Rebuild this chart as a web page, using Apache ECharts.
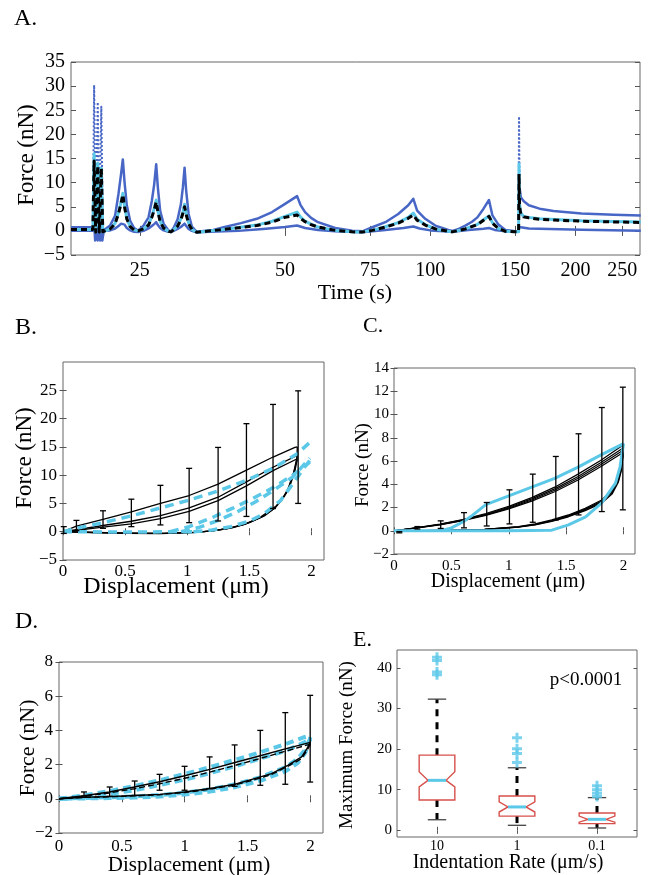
<!DOCTYPE html>
<html><head><meta charset="utf-8">
<script src="https://cdn.jsdelivr.net/npm/echarts@6/dist/echarts.min.js"></script>
<style>html,body{margin:0;padding:0;background:#fff}#c{width:649px;height:875px}</style>
</head><body><div id="c"></div>
<script>
const FONT = 'Liberation Serif';
const BLUE = '#4766c6', CYAN = '#5cc8e8', RED = '#d6504c';

// ---------- Panel A : force vs time (log time axis) ----------
const aXTicks = [25, 50, 75, 100, 150, 200, 250];
const aYTicks = [-5, 0, 5, 10, 15, 20, 25, 30, 35];
const aUpper = [[18.0,0.75],[19.98,0.75],[20.0,'-'],
 [21.15,0.3],[21.69,1.1],[22.22,3.2],[22.58,7.7],[22.86,11.8],[23.05,14.8],[23.24,10.1],[23.49,5.3],[23.87,2.1],[24.33,0.6],[24.78,0.05],
 [25.44,1.1],[26.06,2.8],[26.47,6.2],[26.77,9.6],[27.03,13.8],[27.25,8.9],[27.55,4.1],[28.0,1.5],[28.67,0.1],[29.0,-0.1],
 [29.37,0.6],[29.94,2.4],[30.41,5.5],[30.7,9.0],[30.95,13.1],[31.19,8.3],[31.55,3.5],[32.05,0.9],[32.8,-0.2],
 [35.5,0.2],[37.3,0.75],[40.5,1.6],[43.7,2.5],[47.0,3.9],[50.0,5.6],[52.95,7.2],[53.8,5.4],[55.0,3.9],[56.6,2.7],[58.5,1.8],[63.5,0.6],[68.9,0.05],[72.3,-0.1],
 [75.8,0.75],[80.7,1.8],[85.8,3.5],[90.0,5.3],[92.2,6.65],[93.9,4.2],[97.6,2.5],[102.4,1.1],[109.0,0.2],[111.1,0.0],
 [114.5,0.4],[118.2,1.1],[122.0,1.9],[125.2,2.8],[128.9,4.6],[132.3,6.4],[134.5,3.2],[138.4,1.3],[143.1,0.2],[150.1,-0.1],[152.4,-0.1],[152.5,'-'],
 [153.1,9.0],[154.0,7.0],[156.0,6.2],[160.0,5.3],[168.4,4.6],[180,4.1],[205.8,3.6],[240,3.35],[273,3.2]];
const aUpperBurst = [[19.98,0.75],[20.1,30.2],[20.25,0.6],[20.45,26.7],[20.6,0.6],[20.8,25.7],[20.95,0.5],[21.15,0.3]];
const aUpperSpike = [[152.4,-0.1],[152.7,23.7],[153.1,9.0]];
const aMean = [[18.0,0.3],[19.98,0.3],[20.1,14.5],[20.25,-0.3],[20.45,13.5],[20.6,-0.3],[20.8,13.0],[20.95,-0.2],[21.15,0.2],
 [21.69,0.4],[22.22,1.5],[22.58,3.6],[22.86,5.7],[23.05,7.5],[23.24,5.0],[23.49,2.5],[23.87,0.9],[24.33,0.2],[24.78,0.0],
 [25.44,0.4],[26.06,1.2],[26.47,2.8],[26.77,4.3],[27.03,6.0],[27.25,4.0],[27.55,1.9],[28.0,0.6],[28.67,-0.1],[29.0,-0.2],
 [29.37,0.2],[29.94,1.0],[30.41,2.3],[30.7,3.6],[30.95,5.0],[31.19,3.4],[31.55,1.5],[32.05,0.3],[32.8,-0.3],
 [37.3,0.3],[43.7,1.1],[47.0,1.8],[50.0,2.8],[52.95,3.3],[53.8,2.6],[55.0,1.9],[56.6,1.3],[58.5,0.8],[63.5,0.1],[68.9,-0.2],[72.3,-0.25],
 [75.8,0.1],[80.7,0.8],[85.8,1.6],[90.0,2.6],[92.2,3.3],[93.9,2.2],[97.6,1.2],[102.4,0.4],[109.0,-0.1],[111.1,-0.2],
 [118.2,0.4],[125.2,1.3],[128.9,2.2],[132.3,3.0],[134.5,1.6],[138.4,0.5],[143.1,-0.1],[150.1,-0.2],[152.4,-0.2],
 [152.7,11.8],[153.1,5.0],[154.0,3.5],[156.0,2.9],[160.0,2.7],[168.4,2.4],[205.8,2.0],[240,1.85],[273,1.75]];
const aModel = [[18.0,0.3],[19.98,0.3],[20.1,16.0],[20.25,-0.3],[20.45,14.0],[20.6,-0.3],[20.8,13.0],[20.95,-0.2],[21.15,0.2],
 [21.69,0.4],[22.22,1.6],[22.58,3.8],[22.86,6.0],[23.05,7.8],[23.24,5.2],[23.49,2.6],[23.87,0.9],[24.33,0.2],[24.78,0.0],
 [25.44,0.4],[26.06,1.3],[26.47,3.0],[26.77,4.6],[27.03,6.4],[27.25,4.2],[27.55,2.0],[28.0,0.6],[28.67,-0.1],[29.0,-0.2],
 [29.37,0.2],[29.94,1.1],[30.41,2.5],[30.7,3.9],[30.95,5.5],[31.19,3.7],[31.55,1.6],[32.05,0.3],[32.8,-0.3],
 [37.3,0.3],[43.7,1.2],[47.0,2.0],[50.0,3.0],[52.95,3.9],[53.8,2.9],[55.0,2.0],[56.6,1.4],[58.5,0.8],[63.5,0.1],[68.9,-0.2],[72.3,-0.25],
 [75.8,0.1],[80.7,0.85],[85.8,1.7],[90.0,2.8],[92.2,3.7],[93.9,2.4],[97.6,1.3],[102.4,0.4],[109.0,-0.1],[111.1,-0.2],
 [118.2,0.4],[125.2,1.35],[128.9,2.3],[132.3,3.1],[134.5,1.7],[138.4,0.5],[143.1,-0.1],[150.1,-0.2],[152.4,-0.2],
 [152.7,13.9],[153.1,5.5],[154.0,3.7],[156.0,3.0],[160.0,2.8],[168.4,2.5],[205.8,2.1],[240,1.95],[273,1.85]];
const aLower = [[18.0,0.05],[19.98,0.05],[20.12,1.0],[20.2,-2.0],[20.3,1.0],[20.45,-2.0],[20.55,1.0],[20.7,-2.0],[20.8,1.0],[20.9,-2.0],[21.05,0.0],[21.15,0.0],
 [21.69,0.1],[22.22,0.5],[22.58,1.0],[22.86,1.5],[23.05,1.9],[23.24,1.3],[23.49,0.6],[23.87,0.1],[24.33,-0.2],[24.78,-0.25],
 [25.44,0.0],[26.06,0.5],[26.47,1.0],[26.77,1.4],[27.03,1.8],[27.25,1.2],[27.55,0.6],[28.0,0.1],[28.67,-0.2],[29.0,-0.25],
 [29.37,0.0],[29.94,0.4],[30.41,0.8],[30.7,1.2],[30.95,1.5],[31.19,1.0],[31.55,0.4],[32.05,0.0],[32.8,-0.3],
 [40.0,0.0],[45.0,0.4],[50.0,0.8],[52.95,1.1],[55.0,0.6],[58.5,0.2],[63.5,-0.1],[72.3,-0.3],
 [80.7,0.2],[88.0,0.6],[92.2,0.9],[95.0,0.5],[100.0,0.1],[111.1,-0.2],
 [120.0,0.2],[128.9,0.45],[132.3,0.6],[136.0,0.2],[143.1,-0.1],[152.4,-0.1],
 [152.7,0.8],[153.5,0.7],[160.0,0.5],[205.8,0.25],[273,0.05]];

// ---------- Panel B : 10 um/s ----------
const bXTicks = [0, 0.5, 1, 1.5, 2];
const bYTicks = [-5, 0, 5, 10, 15, 20, 25];
const bLoadTop = [[0,0],[0.108,1.0],[0.322,2.2],[0.55,3.5],[0.784,5.0],[1.015,6.4],[1.248,8.4],[1.476,10.9],[1.69,13.2],[1.866,14.9],[1.885,15.0]];
const bLoadMid = [[0,0],[0.108,0.35],[0.322,1.1],[0.55,1.85],[0.784,2.85],[1.015,4.2],[1.248,6.1],[1.476,8.8],[1.69,11.4],[1.885,13.5]];
const bLoadLow = [[0,0],[0.108,0.25],[0.322,0.8],[0.55,1.4],[0.784,2.3],[1.015,3.6],[1.248,5.5],[1.476,8.1],[1.69,10.8],[1.885,12.9]];
const bUnloadA = [[1.885,15.0],[1.882,12.6],[1.855,10.4],[1.8,6.9],[1.718,4.6],[1.584,2.5],[1.45,1.2],[1.315,0.5],[1.18,0.1],[1.047,-0.15],[0.78,-0.33],[0.51,-0.28],[0.24,-0.15],[0,0]];
const bUnloadB = [[1.885,13.5],[1.86,10.8],[1.82,8.0],[1.76,5.6],[1.7,4.1],[1.6,2.6],[1.47,1.4],[1.33,0.6],[1.2,0.15],[1.06,-0.1],[0.8,-0.3],[0.5,-0.26],[0.25,-0.14],[0,0]];
const bUnloadC = [[1.885,12.9],[1.865,10.6],[1.83,8.4],[1.78,6.2],[1.71,4.3],[1.62,2.8],[1.5,1.6],[1.36,0.7],[1.22,0.2],[1.08,-0.08],[0.82,-0.28],[0.52,-0.25],[0.26,-0.12],[0,0]];
const bModelTop = [[0,0],[0.108,0.6],[0.322,1.6],[0.55,2.8],[0.784,4.2],[1.015,5.6],[1.248,7.2],[1.476,9.1],[1.69,11.2],[1.885,13.8],[1.986,15.8]];
const bModelMidA = [[0.86,0],[1.015,0.9],[1.21,2.6],[1.37,4.2],[1.53,5.9],[1.69,7.8],[1.85,10.0],[1.986,12.3]];
const bModelMidB = [[0.95,0],[1.1,0.8],[1.25,2.0],[1.4,3.5],[1.55,5.3],[1.7,7.4],[1.85,9.7],[1.986,13.0]];
const bModelLow = [[1.05,0],[1.2,0.3],[1.35,0.9],[1.5,1.9],[1.62,3.2],[1.75,5.5],[1.85,8.5],[1.93,11.0],[1.986,12.6]];
const bModelBase = [[0,0],[0.5,-0.05],[1.05,0]];
const bErrX  = [0.006,0.108,0.322,0.55,0.784,1.015,1.248,1.476,1.69,1.892];
const bErrLo = [-0.3,0.2,0.6,0.9,1.2,1.6,1.9,2.7,4.1,5.0];
const bErrHi = [0.9,2.0,3.7,5.75,8.2,11.2,14.9,19.1,22.5,24.9];

// ---------- Panel C : 1 um/s ----------
const cXTicks = [0, 0.5, 1, 1.5, 2];
const cYTicks = [-2, 0, 2, 4, 6, 8, 10, 12, 14];
const cLoadD = [0,0.2,0.4,0.6,0.8,1.0,1.2,1.4,1.6,1.8,2.0];
const cLoad1 = [0,0.27,0.57,0.97,1.48,2.1,2.85,3.75,4.85,6.05,7.4];
const cLoad2 = [0,0.26,0.55,0.93,1.42,2.02,2.74,3.6,4.65,5.85,7.15];
const cLoad3 = [0,0.25,0.53,0.9,1.37,1.95,2.65,3.48,4.5,5.67,6.95];
const cLoad4 = [0,0.24,0.51,0.87,1.32,1.88,2.55,3.36,4.35,5.5,6.75];
const cUnD = [2.0,1.98,1.956,1.9,1.81,1.666,1.52,1.375,1.23,1.084,0.79,0.503,0.25,0];
const cUnload1 = [7.4,5.6,4.67,3.5,2.65,1.94,1.36,0.93,0.59,0.36,0.13,0.04,0.01,0];
const cUnload2 = [7.15,5.4,4.5,3.38,2.55,1.86,1.3,0.88,0.56,0.34,0.12,0.035,0.01,0];
const cUnload3 = [6.95,5.25,4.35,3.27,2.47,1.8,1.25,0.84,0.53,0.32,0.11,0.03,0.01,0];
const cUnload4 = [6.75,5.1,4.2,3.15,2.38,1.73,1.2,0.8,0.5,0.3,0.1,0.03,0.01,0];
const cModelLow = [[0,0],[0.5,0],[1.0,0],[1.375,0.05],[1.52,0.5],[1.67,1.2],[1.81,2.4],[1.93,4.1],[1.97,5.5],[2.0,7.5]];
const cModelUp = [[0.41,0],[0.5,0.25],[0.6,0.75],[0.68,1.3],[0.8,2.25],[1.0,3.0],[1.2,3.75],[1.4,4.5],[1.6,5.45],[1.8,6.5],[2.0,7.5]];
const cErrX  = [0.046,0.2035,0.407,0.61,0.808,1.006,1.209,1.41,1.608,1.811,1.994];
const cErrLo = [-0.18,0.15,0.2,0.25,0.41,0.59,0.73,0.93,1.36,1.65,1.8];
const cErrHi = [-0.08,0.36,0.85,1.56,2.43,3.52,4.87,6.39,8.34,10.6,12.35];

// ---------- Panel D : 0.1 um/s ----------
const dXTicks = [0, 0.5, 1, 1.5, 2];
const dYTicks = [-2, 0, 2, 4, 6, 8];
const dLoadD = [0,0.2,0.4,0.6,0.8,1.0,1.2,1.4,1.6,1.8,2.0];
const dLoadSolid  = [0,0.18,0.4,0.69,1.0,1.35,1.72,2.12,2.52,2.92,3.3];
const dLoadDashed = [0,0.15,0.34,0.59,0.88,1.2,1.56,1.95,2.36,2.78,3.2];
const dUnD = [2.0,1.97,1.93,1.82,1.69,1.555,1.4,1.2,1.0,0.8,0.6,0.4,0.2,0];
const dUnloadSolid  = [3.3,2.9,2.45,1.96,1.47,1.18,0.85,0.6,0.4,0.26,0.19,0.13,0.09,0];
const dUnloadDashed = [3.2,2.8,2.35,1.9,1.42,1.12,0.81,0.56,0.37,0.24,0.17,0.12,0.08,0];
const dModelD = [0,0.2,0.4,0.6,0.8,1.0,1.2,1.4,1.6,1.8,1.95,2.0];
const dModelUpA = [0,0.2,0.45,0.75,1.08,1.45,1.85,2.28,2.72,3.2,3.6,3.7];
const dModelUpB = [0,0.12,0.28,0.5,0.8,1.12,1.5,1.9,2.35,2.8,3.3,3.5];
const dModelUnD = [2.0,1.96,1.9,1.8,1.6,1.4,1.2,1.0,0.8,0.6,0.4,0.2,0];
const dModelLowA = [3.6,2.7,2.1,1.6,1.05,0.68,0.42,0.25,0.13,0.07,0.04,0.02,0];
const dModelLowB = [3.5,2.9,2.35,1.85,1.25,0.85,0.55,0.36,0.22,0.14,0.09,0.05,0];
const dErrX  = [0.199,0.403,0.602,0.8,0.999,1.198,1.397,1.601,1.8,1.998];
const dErrLo = [0.15,0.15,0.2,0.5,0.5,0.6,0.73,0.79,0.85,0.98];
const dErrHi = [0.4,0.69,1.04,1.43,1.9,2.45,3.15,4.0,5.04,6.05];

// ---------- Panel E : boxplots ----------
const eCats = ['10', '1', '0.1'];
const eYTicks = [0, 10, 20, 30, 40];
const eLowW   = [2.6, 1.23, 0.57];
const eQ1     = [7.46, 3.5, 1.64];
const eMed    = [12.3, 5.75, 2.7];
const eQ3     = [18.5, 8.45, 4.27];
const eUpW    = [32.3, 15.4, 8.05];
const eNotchLo = [10.7, 4.5, 2.0];
const eNotchHi = [14.4, 7.0, 3.5];
const eOutliers = [[0,42.6],[0,41.8],[0,39.0],[0,38.3],[1,22.8],[1,20.1],[1,18.9],[1,16.7],[2,11.0],[2,10.0],[2,9.1],[2,8.3]];

// ---------- helpers ----------
const zip = (xs, ys) => xs.map((x, i) => [x, ys[i]]);
const minus = v => (v < 0 ? '\u2212' + Math.abs(v) : String(v));

const grids = [
  {left: 71, top: 62, width: 569, height: 193},
  {left: 63, top: 362, width: 261, height: 198},
  {left: 394, top: 368, width: 241, height: 186},
  {left: 59, top: 662, width: 264, height: 171},
  {left: 397, top: 650, width: 240, height: 187}
].map(g => Object.assign({show: true, borderColor: '#666', borderWidth: 1, backgroundColor: 'transparent'}, g));

function axis(gi, pos, opt) {
  const isLabel = (pos === 'bottom' || pos === 'left');
  const a = {
    type: opt.type || 'value', gridIndex: gi, position: pos,
    min: opt.min, max: opt.max,
    axisLine: {show: false}, splitLine: {show: false},
    axisTick: {show: true, inside: true, length: opt.tick || 3.5, lineStyle: {color: '#555', width: 1}},
    axisLabel: {show: isLabel, fontFamily: FONT, fontSize: opt.fs, color: '#000', margin: opt.margin || 4, formatter: opt.fmt || minus}
  };
  if (opt.ticks) { a.axisTick.customValues = opt.ticks; a.axisLabel.customValues = opt.ticks; }
  if (opt.data) { a.data = opt.data; a.boundaryGap = true; a.axisTick.alignWithLabel = true; delete a.min; delete a.max; }
  return a;
}
const xAxes = [], yAxes = [];
function addAxes(gi, xo, yo) {
  xAxes.push(axis(gi, 'bottom', xo), axis(gi, 'top', xo));
  yAxes.push(axis(gi, 'left', yo), axis(gi, 'right', yo));
}
addAxes(0, {type: 'log', min: 18, max: 272, ticks: aXTicks, fs: 20, tick: 5, margin: 6, fmt: v => String(Math.round(v))},
           {min: -5, max: 35, ticks: aYTicks, fs: 20, tick: 5, margin: 6});
addAxes(1, {min: 0, max: 2.1, ticks: bXTicks, fs: 17, margin: 3}, {min: -5, max: 30, ticks: bYTicks, fs: 17, margin: 6});
addAxes(2, {min: 0, max: 2.1, ticks: cXTicks, fs: 15, margin: 5}, {min: -2, max: 14, ticks: cYTicks, fs: 15, margin: 5});
addAxes(3, {min: 0, max: 2.1, ticks: dXTicks, fs: 17, margin: 5}, {min: -2, max: 8, ticks: dYTicks, fs: 17, margin: 6});
addAxes(4, {type: 'category', data: eCats, fs: 14, margin: 2}, {min: -1.65, max: 44.4, ticks: eYTicks, fs: 15, margin: 5});

function line(gi, data, color, width, type, z) {
  return {type: 'line', xAxisIndex: gi * 2, yAxisIndex: gi * 2, data: data, symbol: 'none', showSymbol: false,
    silent: true, animation: false, clip: true, z: z || 2, connectNulls: false,
    lineStyle: {color: color, width: width, type: type || 'solid', cap: 'butt', join: 'round'}};
}
function errBars(gi, xs, lo, hi) {
  return {type: 'custom', xAxisIndex: gi * 2, yAxisIndex: gi * 2, z: 6, silent: true, animation: false,
    data: xs.map((x, i) => [x, lo[i], hi[i]]),
    renderItem: function (params, api) {
      const x = api.value(0);
      const p1 = api.coord([x, api.value(1)]), p2 = api.coord([x, api.value(2)]);
      const w = 3, st = {stroke: '#000', lineWidth: 1.3};
      return {type: 'group', children: [
        {type: 'line', shape: {x1: p1[0], y1: p1[1], x2: p2[0], y2: p2[1]}, style: st},
        {type: 'line', shape: {x1: p1[0] - w, y1: p1[1], x2: p1[0] + w, y2: p1[1]}, style: st},
        {type: 'line', shape: {x1: p2[0] - w, y1: p2[1], x2: p2[0] + w, y2: p2[1]}, style: st}
      ]};
    }};
}

const DASH_A = [6, 4], DASH_C = [9, 6];
const series = [
  // A
  line(0, aUpper, BLUE, 2.5, 'solid', 2),
  line(0, aUpperBurst, BLUE, 2, 'dotted', 2),
  line(0, aUpperSpike, BLUE, 2, 'dotted', 2),
  line(0, aLower, BLUE, 2.5, 'solid', 2),
  line(0, aModel, CYAN, 3, 'solid', 3),
  line(0, aMean, '#000', 3, DASH_A, 4),
  // B
  line(1, bLoadTop, '#000', 1.3, 'solid', 3),
  line(1, bLoadMid, '#000', 1.3, 'solid', 3),
  line(1, bLoadLow, '#000', 1.3, 'solid', 3),
  line(1, bUnloadA, '#000', 1.3, 'solid', 3),
  line(1, bUnloadB, '#000', 1.3, 'solid', 3),
  line(1, bUnloadC, '#000', 1.3, 'solid', 3),
  line(1, bModelBase, CYAN, 3.5, DASH_C, 4),
  line(1, bModelTop, CYAN, 3.5, DASH_C, 4),
  line(1, bModelMidA, CYAN, 3.5, DASH_C, 4),
  line(1, bModelMidB, CYAN, 3.5, DASH_C, 4),
  line(1, bModelLow, CYAN, 3.5, DASH_C, 4),
  errBars(1, bErrX, bErrLo, bErrHi),
  // C
  line(2, zip(cLoadD, cLoad1), '#000', 1.2, 'solid', 3),
  line(2, zip(cLoadD, cLoad2), '#000', 1.2, 'solid', 3),
  line(2, zip(cLoadD, cLoad3), '#000', 1.2, 'solid', 3),
  line(2, zip(cLoadD, cLoad4), '#000', 1.2, 'solid', 3),
  line(2, zip(cUnD, cUnload1), '#000', 1.2, 'solid', 3),
  line(2, zip(cUnD, cUnload2), '#000', 1.2, 'solid', 3),
  line(2, zip(cUnD, cUnload3), '#000', 1.2, 'solid', 3),
  line(2, zip(cUnD, cUnload4), '#000', 1.2, 'solid', 3),
  line(2, cModelLow, CYAN, 3, 'solid', 4),
  line(2, cModelUp, CYAN, 3, 'solid', 4),
  errBars(2, cErrX, cErrLo, cErrHi),
  // D
  line(3, zip(dModelD, dModelUpA), CYAN, 4, [8, 5], 2),
  line(3, zip(dModelD, dModelUpB), CYAN, 4, [8, 5], 2),
  line(3, zip(dModelUnD, dModelLowA), CYAN, 4, [8, 5], 2),
  line(3, zip(dModelUnD, dModelLowB), CYAN, 4, [8, 5], 2),
  line(3, zip(dLoadD, dLoadSolid), '#000', 1.4, 'solid', 3),
  line(3, zip(dLoadD, dLoadDashed), '#000', 1.4, [6, 3], 3),
  line(3, zip(dUnD, dUnloadSolid), '#000', 1.4, 'solid', 3),
  line(3, zip(dUnD, dUnloadDashed), '#000', 1.4, [6, 3], 3),
  errBars(3, dErrX, dErrLo, dErrHi),
  // E
  {type: 'custom', xAxisIndex: 8, yAxisIndex: 8, silent: true, animation: false, z: 4,
    data: eCats.map((c, i) => [i, eLowW[i], eQ1[i], eMed[i], eQ3[i], eUpW[i], eNotchLo[i], eNotchHi[i]]),
    renderItem: function (params, api) {
      const i = api.value(0);
      const cw = api.size([1, 0])[0];
      const x = api.coord([i, 0])[0];
      const y = k => api.coord([i, api.value(k)])[1];
      const lw = y(1), q1 = y(2), md = y(3), q3 = y(4), uw = y(5), nl = y(6), nh = y(7);
      const hw = cw * 0.223, nw = cw * 0.113, capw = cw * 0.115;
      const wst = {stroke: '#000', lineWidth: 3, lineDash: [7, 6]};
      const cst = {stroke: '#444', lineWidth: 1.3};
      return {type: 'group', children: [
        {type: 'line', shape: {x1: x, y1: q3, x2: x, y2: uw}, style: wst},
        {type: 'line', shape: {x1: x, y1: q1, x2: x, y2: lw}, style: wst},
        {type: 'line', shape: {x1: x - capw, y1: uw, x2: x + capw, y2: uw}, style: cst},
        {type: 'line', shape: {x1: x - capw, y1: lw, x2: x + capw, y2: lw}, style: cst},
        {type: 'polygon', shape: {points: [[x - hw, q3], [x + hw, q3], [x + hw, nh], [x + nw, md], [x + hw, nl], [x + hw, q1],
          [x - hw, q1], [x - hw, nl], [x - nw, md], [x - hw, nh]]}, style: {fill: '#fff', stroke: RED, lineWidth: 1.4}},
        {type: 'line', shape: {x1: x - nw, y1: md, x2: x + nw, y2: md}, style: {stroke: CYAN, lineWidth: 3}}
      ]};
    }},
  {type: 'scatter', xAxisIndex: 8, yAxisIndex: 8, data: eOutliers, silent: true, animation: false, z: 5,
    symbol: 'path://M3.5,0H6.5V3.5H10V6.5H6.5V10H3.5V6.5H0V3.5H3.5Z', symbolSize: 10, itemStyle: {color: CYAN}}
];

function txt(text, x, y, size, rot, align) {
  return {type: 'text', x: x, y: y, rotation: rot || 0, silent: true,
    style: {text: text, fontFamily: FONT, fontSize: size, fill: '#000', align: align || 'center', verticalAlign: 'middle'}};
}
const R = Math.PI / 2;
const graphic = [
  txt('A.', 14, 19, 24, 0, 'left'),
  txt('B.', 15, 328, 24, 0, 'left'),
  txt('C.', 363, 326, 22, 0, 'left'),
  txt('D.', 15, 622, 24, 0, 'left'),
  txt('E.', 353, 640, 22, 0, 'left'),
  txt('Force (nN)', 27, 155, 23, R),
  txt('Time (s)', 355, 293, 22),
  txt('Force (nN)', 25, 458, 23, R),
  txt('Displacement (\u03bcm)', 176, 587, 24),
  txt('Force (nN)', 363, 465, 19, R),
  txt('Displacement (\u03bcm)', 508, 582, 20),
  txt('Force (nN)', 28, 748, 22, R),
  txt('Displacement (\u03bcm)', 189, 865, 21),
  txt('Maximum Force (nN)', 347, 745, 19, R),
  txt('Indentation Rate (\u03bcm/s)', 508, 863, 20),
  txt('p<0.0001', 586, 680, 19)
];

const chart = echarts.init(document.getElementById('c'), null, {renderer: 'canvas'});
chart.setOption({
  animation: false,
  backgroundColor: '#fff',
  textStyle: {fontFamily: FONT},
  grid: grids, xAxis: xAxes, yAxis: yAxes, series: series, graphic: graphic
});
</script></body></html>
